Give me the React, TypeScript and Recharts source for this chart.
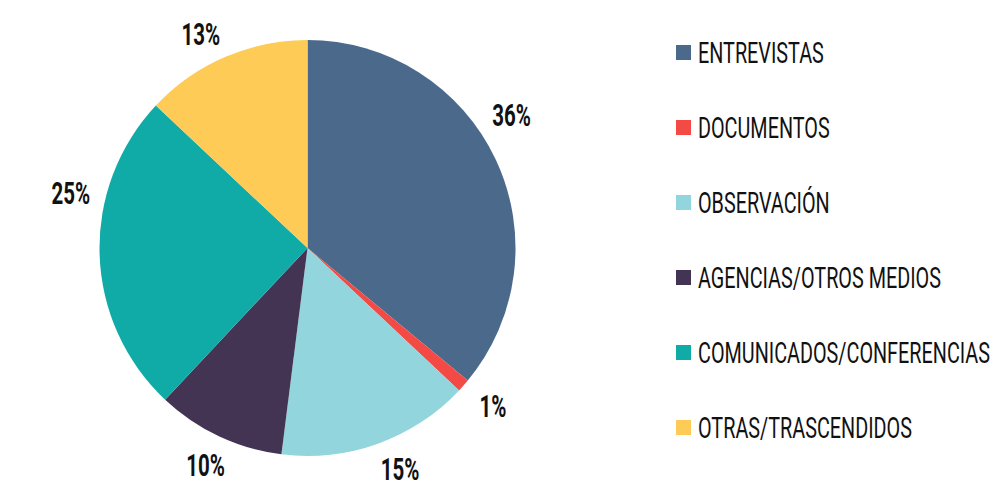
import React from "react";
import { PieChart, Pie, Cell, Legend } from "recharts";

const categories = [
  "ENTREVISTAS",
  "DOCUMENTOS",
  "OBSERVACIÓN",
  "AGENCIAS/OTROS MEDIOS",
  "COMUNICADOS/CONFERENCIAS",
  "OTRAS/TRASCENDIDOS",
];
const values = [36, 1, 15, 10, 25, 13];
const colors = ["#4B6A8B", "#F34A45", "#93D5DC", "#433454", "#10ABA7", "#FDCB56"];
// manual label nudges (degrees) like the hand-placed labels in the original
const labelNudge = [8, 1, 3, 0, -15, 3];

const data = categories.map((name, i) => ({ name, value: values[i] }));

const RAD = Math.PI / 180;

const renderLabel = (props: any) => {
  const { cx, cy, midAngle, outerRadius, value, index } = props;
  const a = (midAngle + (labelNudge[index] || 0)) * RAD;
  const c = Math.cos(-a);
  const s = Math.sin(-a);
  const r = outerRadius + 13 + Math.abs(c) * 20 + Math.abs(s) * 11;
  const x = cx + r * c;
  const y = cy + r * s;
  return (
    <text
      transform={`translate(${x},${y}) scale(0.64,1)`}
      textAnchor="middle"
      dy="0.36em"
      fontFamily="Roboto"
      fontWeight={700}
      fontSize={32}
      fill="#111"
    >
      {value}%
    </text>
  );
};

const renderLegend = () => (
  <div style={{ display: "flex", flexDirection: "column" }}>
    {data.map((d, i) => (
      <div
        key={d.name}
        style={{ display: "flex", alignItems: "center", height: 75 }}
      >
        <span
          style={{
            width: 15,
            height: 15,
            flexShrink: 0,
            backgroundColor: colors[i],
            display: "inline-block",
            marginRight: 7,
          }}
        />
        <span
          style={{
            fontFamily: "Roboto",
            fontSize: 30,
            color: "#111",
            whiteSpace: "nowrap",
            transform: "scaleX(0.66)",
            transformOrigin: "left center",
            lineHeight: 1,
          }}
        >
          {d.name}
        </span>
      </div>
    ))}
  </div>
);

export default function App() {
  return (
    <div style={{ position: "absolute", left: 0, top: 0, background: "#fff" }}>
      <PieChart width={990} height={484} margin={{ top: 0, right: 0, bottom: 0, left: 0 }}>
        <Pie
          data={data}
          dataKey="value"
          nameKey="name"
          cx={307.5}
          cy={248}
          outerRadius={208}
          startAngle={90}
          endAngle={-270}
          stroke="none"
          label={renderLabel}
          labelLine={false}
          isAnimationActive={false}
        >
          {data.map((_, i) => (
            <Cell key={`cell-${i}`} fill={colors[i]} />
          ))}
        </Pie>
        <Legend
          content={renderLegend}
          layout="vertical"
          wrapperStyle={{ left: 676, top: 15, width: 310 }}
        />
      </PieChart>
    </div>
  );
}
